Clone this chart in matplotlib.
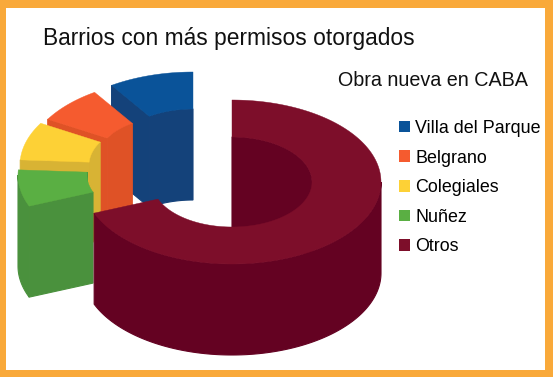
import numpy as np
import matplotlib
matplotlib.use("Agg")
import matplotlib.pyplot as plt
from matplotlib.patches import Polygon, Patch, Rectangle

# Data (percent shares), clockwise from 12 o'clock
categories = ["Villa del Parque", "Belgrano", "Colegiales", "Nuñez", "Otros"]
shares = [9.2, 7.3, 7.5, 7.2, 68.8]
title = "Barrios con más permisos otorgados"
subtitle = "Obra nueva en CABA"

# Styles
top_colors = ["#0A5399", "#F55B2F", "#FDD136", "#5AAF43", "#7D0E2A"]
wall_colors = ["#14427A", "#DF5226", "#D8B334", "#4A913D", "#640222"]
border_color = "#F9A93A"

# Layout (pixels)
W, H = 553, 377
RX, RY = 149, 82
IRX, IRY = 80, 45
DEPTH = 91
# Where each slice's centre is drawn (exploded)
centers = [(193, 154), (176, 161), (169, 165), (167, 175), (232, 182)]

plt.rcParams["font.family"] = ["Liberation Sans", "DejaVu Sans"]
fig = plt.figure(figsize=(W / 100, H / 100), dpi=100)
ax = fig.add_axes([0, 0, 1, 1])
ax.set_xlim(0, W)
ax.set_ylim(H, 0)
ax.axis("off")


def ring(c, rx, ry, t0, t1):
    t = np.radians(np.linspace(t0, t1, max(int(abs(t1 - t0)), 2) + 1))
    return np.column_stack([c[0] + rx * np.sin(t), c[1] - ry * np.cos(t)])


def wall(pts):
    return np.vstack([pts, (pts + [0, DEPTH])[::-1]])


def overlap(t0, t1, a, b):
    lo, hi = max(t0, a), min(t1, b)
    return (lo, hi) if hi > lo else None


starts = 360 - np.cumsum(shares) * 3.6
ends = starts + np.array(shares) * 3.6
z = 2
for i, (s, e, c) in enumerate(zip(starts, ends, centers)):
    patches = []
    if 180 < s % 360 < 360:
        a = ring(c, RX, RY, s, s)[:1]
        b = ring(c, IRX, IRY, s, s)[:1]
        patches.append(wall(np.vstack([a, b])))
    if 0 < e % 360 < 180:
        a = ring(c, RX, RY, e, e)[:1]
        b = ring(c, IRX, IRY, e, e)[:1]
        patches.append(wall(np.vstack([a, b])))
    # inner wall: far half of the hole
    for a, b in [(-90, 90), (270, 450)]:
        r = overlap(s, e, a, b)
        if r:
            patches.append(wall(ring(c, IRX, IRY, *r)))
    # outer wall: near half
    r = overlap(s, e, 90, 270)
    if r:
        patches.append(wall(ring(c, RX, RY, *r)))
    for pts in patches:
        ax.add_patch(Polygon(pts, fc=wall_colors[i], ec=wall_colors[i], lw=0.8, zorder=z))
    top = np.vstack([ring(c, RX, RY, s, e), ring(c, IRX, IRY, e, s)])
    ax.add_patch(Polygon(top, fc=top_colors[i], ec=top_colors[i], lw=0.3, zorder=z + 0.5))
    z += 1

# Frame
for rect in [(0, 0, W, 8), (0, H - 7, W, 7), (0, 0, 6, H), (W - 8, 0, 8, H)]:
    ax.add_patch(Rectangle(rect[:2], rect[2], rect[3], fc=border_color, ec="none", zorder=20))

ax.text(43, 38, title, fontsize=16.4, color="#111111", va="center", ha="left", zorder=21)
ax.text(338, 81, subtitle, fontsize=14.2, color="#111111", va="center", ha="left", zorder=21)

handles = [Patch(fc=col, ec="none") for col in top_colors]
leg = ax.legend(handles, categories, loc="upper left", bbox_to_anchor=(399 / W, 1 - 120 / H),
                bbox_transform=ax.transAxes, frameon=False, fontsize=12.9, handlelength=0.62,
                handleheight=0.62, handletextpad=0.3, labelspacing=0.7, borderaxespad=0, borderpad=0)
leg.set_zorder(21)

fig.savefig("out.png", dpi=100)
